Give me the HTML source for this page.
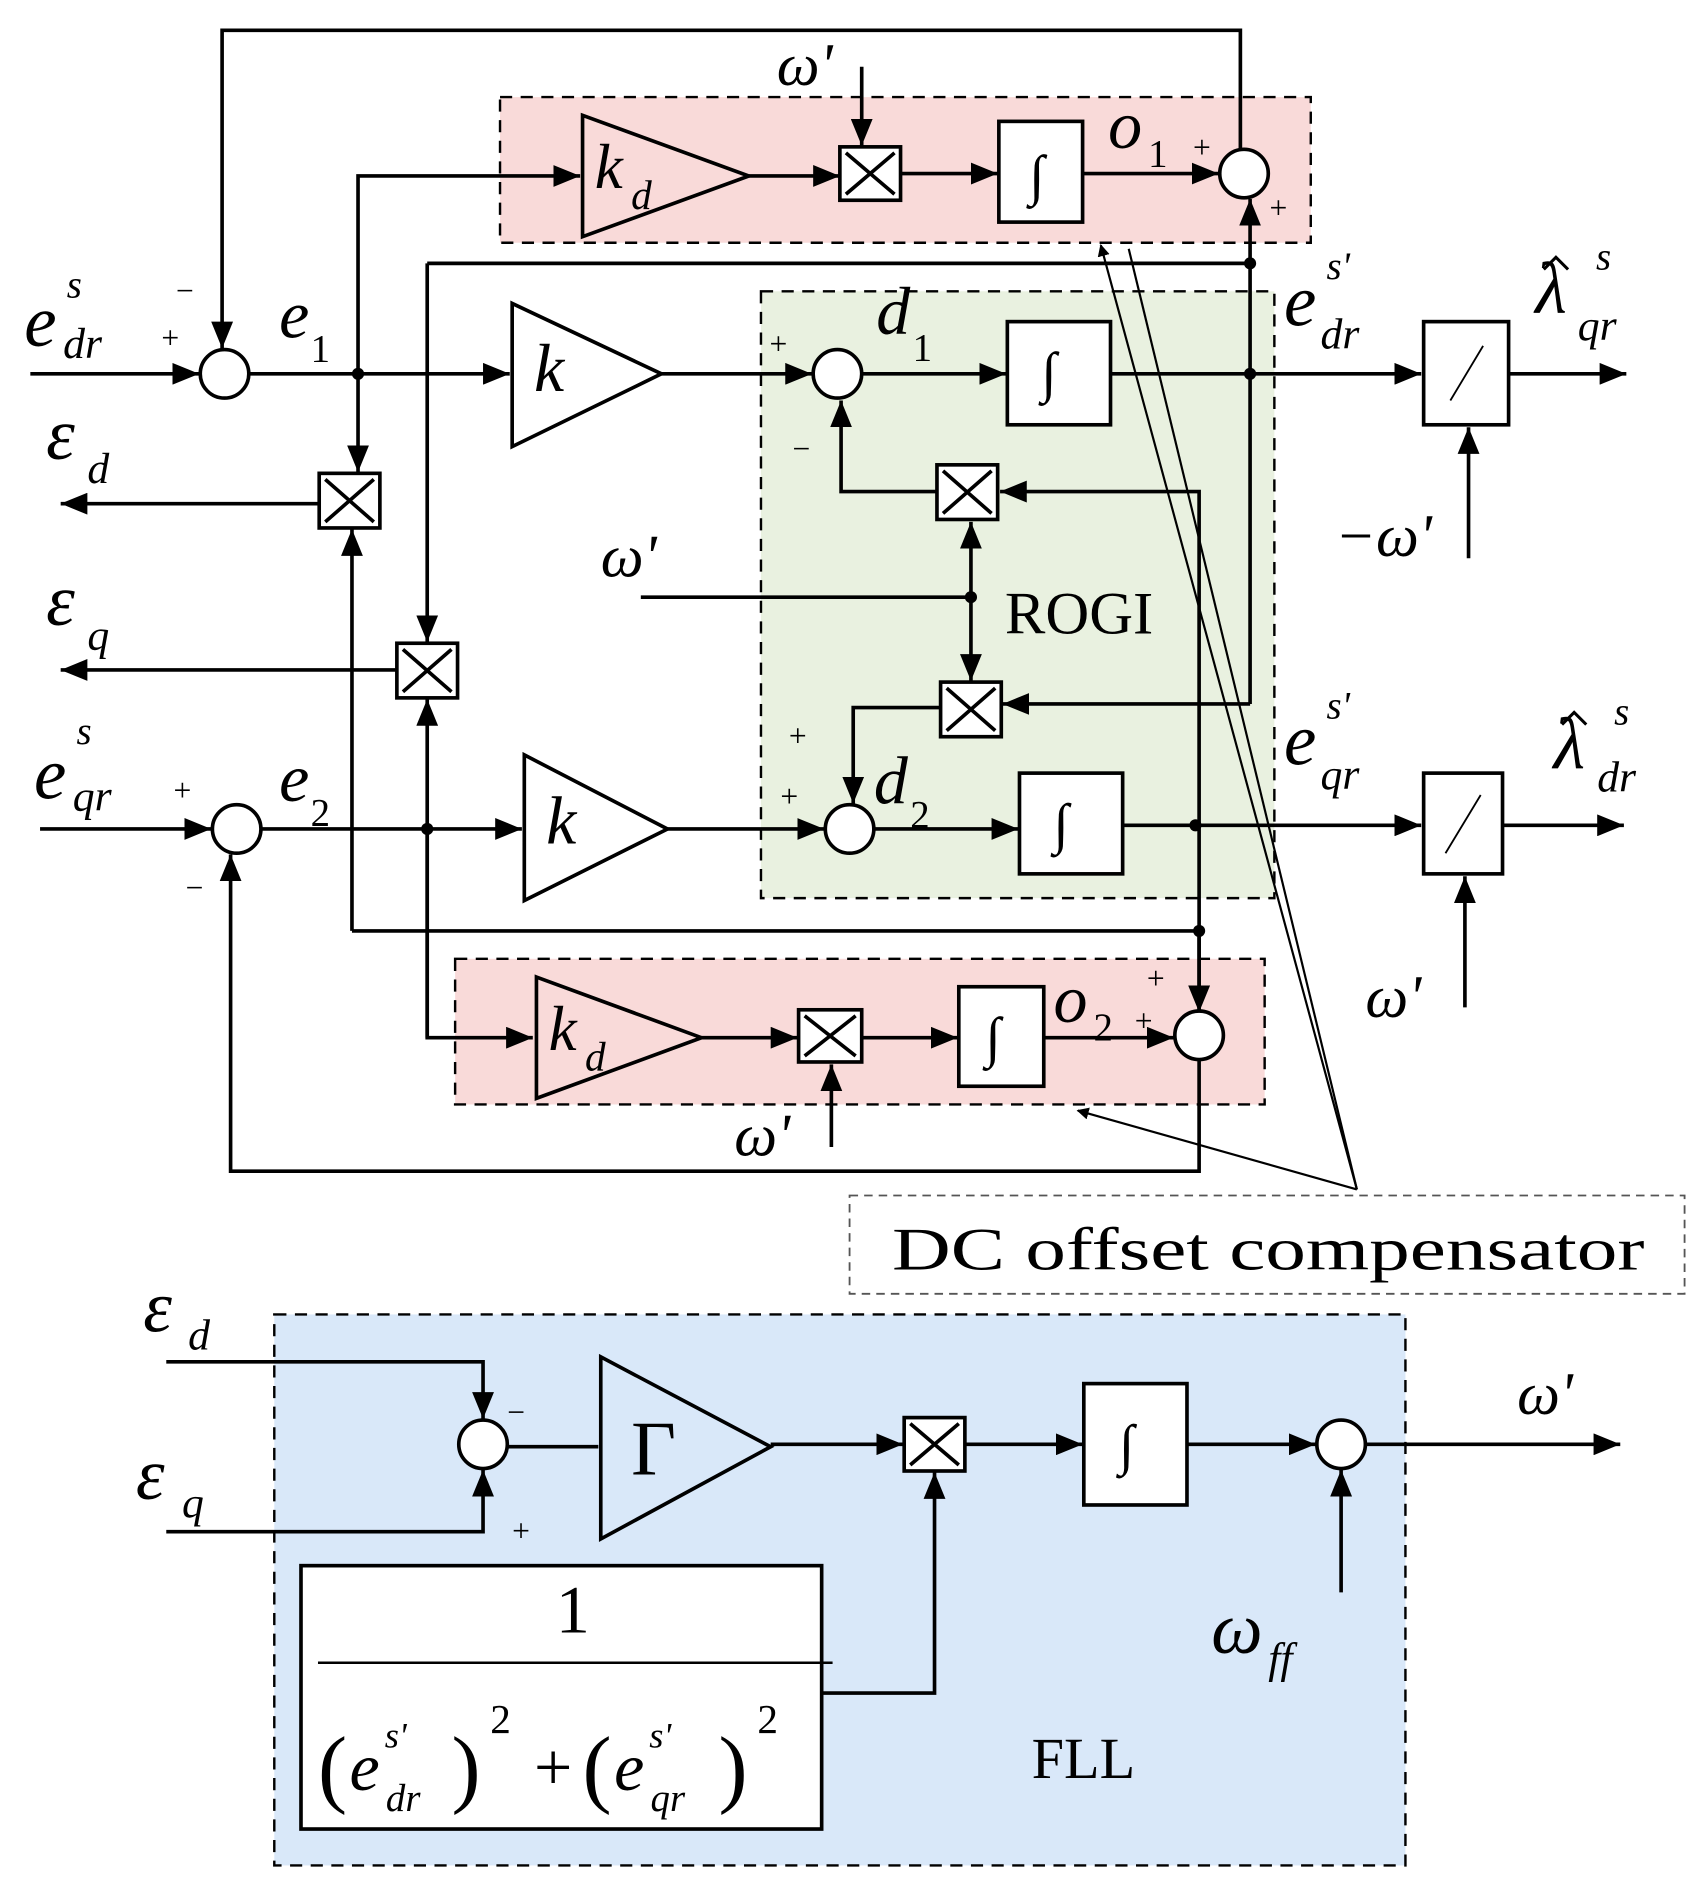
<!DOCTYPE html>
<html><head><meta charset="utf-8"><style>
html,body{margin:0;padding:0;background:#fff}
svg{display:block}
text{font-family:"Liberation Serif",serif;fill:#000}
.i{font-style:italic}
</style></head><body>
<svg width="1704" height="1897" viewBox="0 0 1404 1563" preserveAspectRatio="none" xmlns="http://www.w3.org/2000/svg">
<defs>
<marker id="a" markerWidth="10" markerHeight="10" refX="9" refY="5" orient="auto" markerUnits="userSpaceOnUse" viewBox="0 0 10 10">
<path d="M0,0 L10,5 L0,10 z" fill="#000"/></marker>
<marker id="s" markerWidth="22" markerHeight="18" refX="22" refY="9" orient="auto" markerUnits="userSpaceOnUse" viewBox="0 0 22 18">
<path d="M0,0 L22,9 L0,18 z" fill="#000"/></marker>
</defs>
<rect x="412" y="80" width="668" height="120" fill="#f9dad9" stroke="#000" stroke-width="2" stroke-dasharray="10,7"/>
<rect x="627" y="240" width="423" height="500" fill="#e9f1e0" stroke="#000" stroke-width="2" stroke-dasharray="10,7"/>
<rect x="375" y="790" width="667" height="120" fill="#f9dad9" stroke="#000" stroke-width="2" stroke-dasharray="10,7"/>
<rect x="226" y="1083" width="932" height="454" fill="#d9e8f9" stroke="#000" stroke-width="2" stroke-dasharray="10,7"/>
<rect x="700" y="985" width="688" height="81" fill="#fff" stroke="#555" stroke-width="1.5" stroke-dasharray="7,5"/>
<text x="735" y="1046" font-size="50" textLength="620" lengthAdjust="spacingAndGlyphs">DC offset compensator</text>

<g stroke="#000" stroke-width="3" fill="none">
<polyline points="295,308 295,145 478,145" marker-end="url(#s)"/>
<polygon points="480,95 617,145 480,195" fill="none"/>
<line x1="617" y1="145" x2="692" y2="145" marker-end="url(#s)"/>
<rect x="692" y="121" width="50" height="44" fill="#fff"/>
<line x1="710" y1="55" x2="710" y2="120" marker-end="url(#s)"/>
<line x1="742" y1="143" x2="822" y2="143" marker-end="url(#s)"/>
<rect x="823" y="100" width="69" height="83" fill="#fff"/>
<line x1="892" y1="143" x2="1004" y2="143" marker-end="url(#s)"/>
<circle cx="1025" cy="143" r="20" fill="#fff"/>
<polyline points="1022,123 1022,25 183,25 183,287" marker-end="url(#s)"/>
<line x1="352" y1="217" x2="1030" y2="217"/>
<line x1="1030" y1="580" x2="1030" y2="164" marker-end="url(#s)"/>
<line x1="1030" y1="580" x2="826" y2="580" marker-end="url(#s)"/>
<line x1="25" y1="308" x2="164" y2="308" marker-end="url(#s)"/>
<circle cx="185" cy="308" r="20" fill="#fff"/>
<line x1="205" y1="308" x2="420" y2="308" marker-end="url(#s)"/>
<polygon points="422,250 545,308 422,368"/>
<line x1="545" y1="308" x2="669" y2="308" marker-end="url(#s)"/>
<circle cx="690" cy="308" r="20" fill="#fff"/>
<line x1="710" y1="308" x2="829" y2="308" marker-end="url(#s)"/>
<rect x="830" y="265" width="85" height="85" fill="#fff"/>
<line x1="915" y1="308" x2="1171" y2="308" marker-end="url(#s)"/>
<rect x="1173" y="265" width="70" height="85" fill="#fff"/>
<line x1="1243" y1="308" x2="1340" y2="308" marker-end="url(#s)"/>
<line x1="1210" y1="460" x2="1210" y2="352" marker-end="url(#s)"/>
<line x1="295" y1="308" x2="295" y2="389" marker-end="url(#s)"/>
<rect x="263" y="390" width="50" height="45" fill="#fff"/>
<line x1="263" y1="415" x2="50" y2="415" marker-end="url(#s)"/>
<polyline points="290,767 290,436" marker-end="url(#s)"/>
<line x1="290" y1="767" x2="988" y2="767"/>
<line x1="352" y1="217" x2="352" y2="529" marker-end="url(#s)"/>
<rect x="327" y="530" width="50" height="45" fill="#fff"/>
<line x1="327" y1="552" x2="50" y2="552" marker-end="url(#s)"/>
<line x1="352" y1="855" x2="352" y2="576" marker-end="url(#s)"/>
<rect x="772" y="383" width="50" height="45" fill="#fff"/>
<polyline points="988,855 988,405 824,405" marker-end="url(#s)"/>
<polyline points="772,405 693,405 693,330" marker-end="url(#s)"/>
<line x1="528" y1="492" x2="800" y2="492"/>
<line x1="800" y1="492" x2="800" y2="430" marker-end="url(#s)"/>
<line x1="800" y1="492" x2="800" y2="561" marker-end="url(#s)"/>
<rect x="775" y="562" width="50" height="45" fill="#fff"/>
<polyline points="775,583 703,583 703,662" marker-end="url(#s)"/>
<line x1="33" y1="683" x2="174" y2="683" marker-end="url(#s)"/>
<circle cx="195" cy="683" r="20" fill="#fff"/>
<line x1="215" y1="683" x2="430" y2="683" marker-end="url(#s)"/>
<polygon points="432,622 550,683 432,742"/>
<line x1="550" y1="683" x2="679" y2="683" marker-end="url(#s)"/>
<circle cx="700" cy="683" r="20" fill="#fff"/>
<line x1="720" y1="683" x2="839" y2="683" marker-end="url(#s)"/>
<rect x="840" y="637" width="85" height="83" fill="#fff"/>
<line x1="925" y1="680" x2="1171" y2="680" marker-end="url(#s)"/>
<rect x="1173" y="637" width="65" height="83" fill="#fff"/>
<line x1="1238" y1="680" x2="1338" y2="680" marker-end="url(#s)"/>
<line x1="1207" y1="830" x2="1207" y2="722" marker-end="url(#s)"/>
<polyline points="988,873 988,965 190,965 190,704" marker-end="url(#s)"/>
<polyline points="352,683 352,855 439,855" marker-end="url(#s)"/>
<polygon points="442,805 578,855 442,905"/>
<line x1="578" y1="855" x2="657" y2="855" marker-end="url(#s)"/>
<rect x="658" y="832" width="52" height="43" fill="#fff"/>
<line x1="685" y1="945" x2="685" y2="877" marker-end="url(#s)"/>
<line x1="710" y1="855" x2="789" y2="855" marker-end="url(#s)"/>
<rect x="790" y="813" width="70" height="82" fill="#fff"/>
<line x1="860" y1="855" x2="967" y2="855" marker-end="url(#s)"/>
<line x1="988" y1="767" x2="988" y2="834" marker-end="url(#s)"/>
<circle cx="988" cy="853" r="20" fill="#fff"/>
<polyline points="137,1122 398,1122 398,1169" marker-end="url(#s)"/>
<polyline points="137,1262 398,1262 398,1211" marker-end="url(#s)"/>
<circle cx="398" cy="1190" r="20" fill="#fff"/>
<line x1="418" y1="1192" x2="493" y2="1192"/>
<polygon points="495,1118 635,1192 495,1268"/>
<line x1="635" y1="1190" x2="744" y2="1190" marker-end="url(#s)"/>
<rect x="745" y="1168" width="50" height="44" fill="#fff"/>
<line x1="795" y1="1190" x2="892" y2="1190" marker-end="url(#s)"/>
<rect x="893" y="1140" width="85" height="100" fill="#fff"/>
<line x1="978" y1="1190" x2="1084" y2="1190" marker-end="url(#s)"/>
<circle cx="1105" cy="1190" r="20" fill="#fff"/>
<line x1="1125" y1="1190" x2="1335" y2="1190" marker-end="url(#s)"/>
<line x1="1105" y1="1312" x2="1105" y2="1211" marker-end="url(#s)"/>
<rect x="248" y="1290" width="429" height="217" fill="#fff"/>
<polyline points="677,1395 770,1395 770,1213" marker-end="url(#s)"/>
</g>
<g stroke="#000" stroke-width="3">
<path d="M697,126 L737,160 M737,126 L697,160"/>
<path d="M268,395 L308,430 M308,395 L268,430"/>
<path d="M332,535 L372,570 M372,535 L332,570"/>
<path d="M777,388 L817,423 M817,388 L777,423"/>
<path d="M780,567 L820,602 M820,567 L780,602"/>
<path d="M663,837 L705,870 M705,837 L663,870"/>
<path d="M750,1173 L790,1207 M790,1173 L750,1207"/>
<path d="M1195,330 L1222,285 M1191,703 L1220,655" stroke-width="1.5"/>
<line x1="262" y1="1370" x2="686" y2="1370" stroke-width="2"/>
<path d="M1272,222 L1282,212 L1292,222 M1287,597 L1297,587 L1307,597" stroke-width="2.5" fill="none"/>
</g>
<g fill="#000">
<circle cx="295" cy="308" r="5"/><circle cx="1030" cy="217" r="5"/><circle cx="1030" cy="308" r="5"/>
<circle cx="800" cy="492" r="5"/><circle cx="352" cy="683" r="5"/><circle cx="985" cy="680" r="5"/><circle cx="988" cy="767" r="5"/>
</g>
<g stroke="#000" stroke-width="1.8" fill="none">
<line x1="1118" y1="980" x2="907" y2="202" marker-end="url(#a)"/>
<line x1="1118" y1="980" x2="930" y2="205"/>
<line x1="1118" y1="980" x2="888" y2="915" marker-end="url(#a)"/>
</g>
<g font-size="46" class="i">
<text x="848" y="160">∫</text><text x="858" y="322">∫</text><text x="868" y="694">∫</text>
<text x="812" y="870">∫</text><text x="922" y="1206">∫</text>
</g>
<text x="520" y="1215" font-size="64">Γ</text>
<g class="i">
<text x="490" y="155" font-size="52">k</text><text x="520" y="172" font-size="34">d</text>
<text x="440" y="322" font-size="56">k</text>
<text x="450" y="695" font-size="56">k</text>
<text x="452" y="865" font-size="52">k</text><text x="482" y="882" font-size="34">d</text>
<text x="913" y="122" font-size="56">o</text><text x="946" y="137" font-size="32" font-style="normal">1</text>
<text x="868" y="842" font-size="56">o</text><text x="901" y="857" font-size="32" font-style="normal">2</text>
<text x="722" y="275" font-size="56">d</text><text x="752" y="297" font-size="32" font-style="normal">1</text>
<text x="720" y="662" font-size="56">d</text><text x="750" y="682" font-size="32" font-style="normal">2</text>
<text x="230" y="278" font-size="56">e</text><text x="256" y="298" font-size="32" font-style="normal">1</text>
<text x="230" y="660" font-size="56">e</text><text x="256" y="680" font-size="32" font-style="normal">2</text>
<text x="20" y="285" font-size="60">e</text><text x="55" y="245" font-size="32">s</text><text x="52" y="295" font-size="36">dr</text>
<text x="28" y="658" font-size="60">e</text><text x="63" y="613" font-size="32">s</text><text x="60" y="668" font-size="36">qr</text>
<text x="38" y="378" font-size="60">ε</text><text x="72" y="398" font-size="36">d</text>
<text x="38" y="515" font-size="60">ε</text><text x="72" y="535" font-size="36">q</text>
<text x="1058" y="268" font-size="60">e</text><text x="1093" y="230" font-size="32">s'</text><text x="1088" y="287" font-size="36">dr</text>
<text x="1058" y="630" font-size="60">e</text><text x="1093" y="592" font-size="32">s'</text><text x="1088" y="650" font-size="36">qr</text>
<text x="1265" y="258" font-size="60">λ</text><text x="1315" y="222" font-size="32">s</text><text x="1300" y="280" font-size="36">qr</text>
<text x="1280" y="633" font-size="60">λ</text><text x="1330" y="597" font-size="32">s</text><text x="1316" y="652" font-size="36">dr</text>
<text x="640" y="70" font-size="50">ω'</text>
<text x="495" y="475" font-size="50">ω'</text>
<text x="1100" y="458" font-size="50">−ω'</text>
<text x="1125" y="838" font-size="50">ω'</text>
<text x="605" y="952" font-size="50">ω'</text>
<text x="118" y="1097" font-size="60">ε</text><text x="155" y="1112" font-size="36">d</text>
<text x="112" y="1235" font-size="60">ε</text><text x="150" y="1250" font-size="36">q</text>
<text x="1250" y="1165" font-size="50">ω'</text>
<text x="998" y="1362" font-size="60">ω</text><text x="1045" y="1378" font-size="36">ff</text>
</g>
<g font-size="26">
<text x="145" y="248">−</text><text x="133" y="287">+</text>
<text x="983" y="130">+</text><text x="1046" y="180">+</text>
<text x="634" y="292">+</text><text x="653" y="378">−</text>
<text x="650" y="615">+</text><text x="643" y="665">+</text>
<text x="143" y="660">+</text><text x="153" y="740">−</text>
<text x="945" y="815">+</text><text x="935" y="850">+</text>
<text x="418" y="1172">−</text><text x="422" y="1270">+</text>
</g>
<text x="828" y="522" font-size="50">ROGI</text>
<text x="850" y="1465" font-size="48">FLL</text>
<text x="458" y="1345" font-size="56">1</text>
<g font-size="56">
<text x="262" y="1480" font-size="72">(</text><text class="i" x="288" y="1475">e</text><text x="372" y="1480" font-size="72">)</text>
<text class="i" x="317" y="1440" font-size="30">s'</text><text class="i" x="318" y="1492" font-size="32">dr</text>
<text x="404" y="1428" font-size="34">2</text>
<text x="440" y="1475">+</text>
<text x="480" y="1480" font-size="72">(</text><text class="i" x="506" y="1475">e</text><text x="592" y="1480" font-size="72">)</text>
<text class="i" x="535" y="1440" font-size="30">s'</text><text class="i" x="536" y="1492" font-size="32">qr</text>
<text x="624" y="1428" font-size="34">2</text>
</g>
</svg>
</body></html>
